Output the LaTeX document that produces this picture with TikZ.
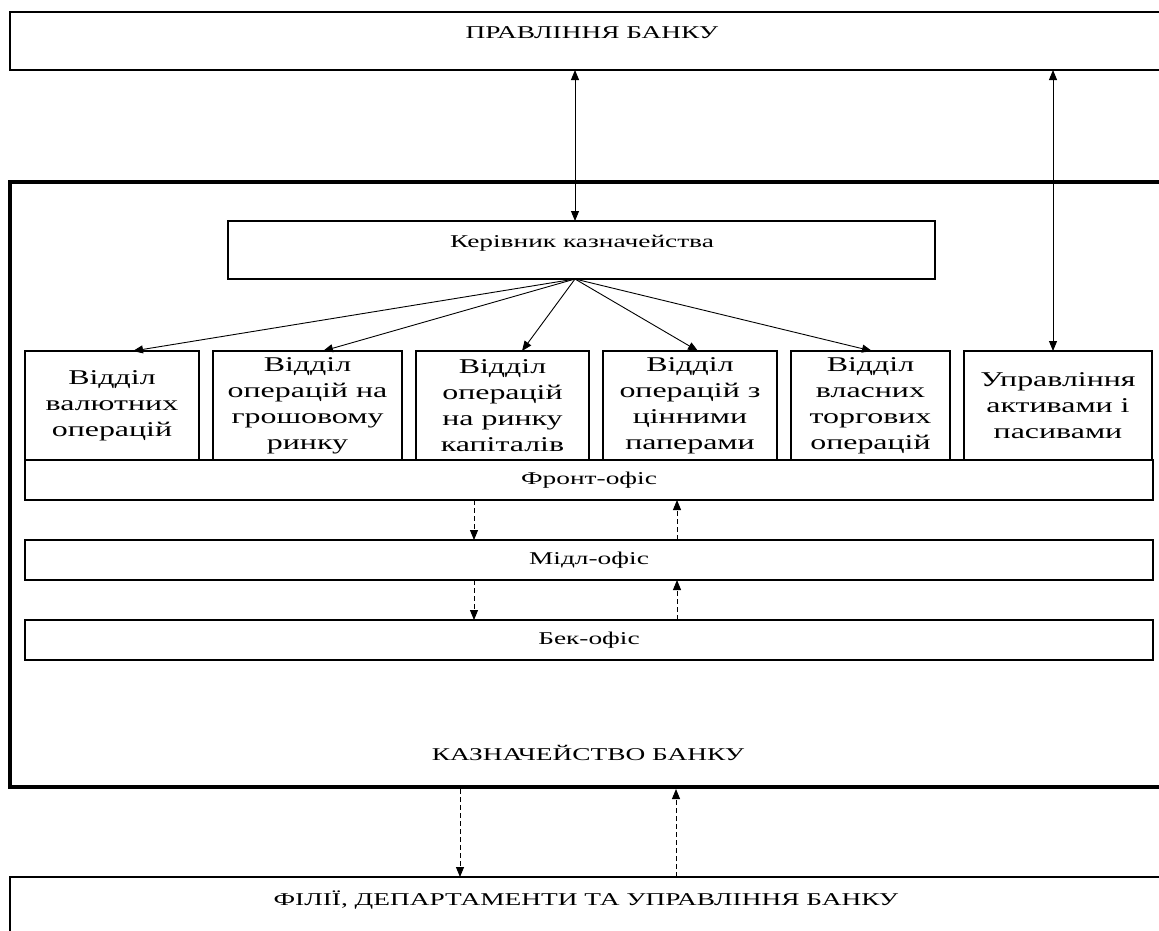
\documentclass[tikz,border=0pt]{standalone}
\usepackage{fontspec}
\setmainfont{Liberation Serif}
\newfontfamily\wideserif[FakeStretch=1.52]{Liberation Serif}
\usetikzlibrary{positioning,arrows.meta}

\begin{document}
\begin{tikzpicture}[x=1pt,y=-1pt,node distance=14pt,>={Triangle[length=10pt,width=8pt]},
  box/.style={draw,line width=1.4pt,inner sep=0pt,outer sep=0pt},
  unit/.style={box,minimum height=109pt,align=center,font=\wideserif\fontsize{21}{26}\selectfont},
  office/.style={box,minimum width=1128pt,minimum height=40pt,font=\wideserif\fontsize{18}{21}\selectfont},
  caption/.style={inner sep=0pt,font=\wideserif\fontsize{18}{21}\selectfont},
  link/.style={line width=0.9pt},
  dlink/.style={link,dash pattern=on 5pt off 3pt}]
  \useasboundingbox (0,0) rectangle (1159,930);
  \clip (0,0) rectangle (1159,930);
  % outer boxes
  \node(board)[box,anchor=north west,minimum width=1164pt,minimum height=58pt] at (10,12) {};
  \node(boardtxt)[caption] at (592,33) {ПРАВЛІННЯ БАНКУ};
  \node(treasury)[box,line width=4.5pt,anchor=north west,minimum width=1160pt,minimum height=605pt] at (10,182) {};
  \node(treasurytxt)[caption] at (588,753) {КАЗНАЧЕЙСТВО БАНКУ};
  \node(branches)[box,anchor=north west,minimum width=1300pt,minimum height=80pt] at (10,877) {};
  \node(branchestxt)[caption] at (586,900) {ФІЛІЇ, ДЕПАРТАМЕНТИ ТА УПРАВЛІННЯ БАНКУ};
  % head of treasury
  \node(head)[box,anchor=north west,minimum width=707pt,minimum height=58pt] at (228,221) {};
  \node(headtxt)[caption] at (582,243) {Керівник казначейства};
  % departments
  \node(fx)[unit,minimum width=174pt,anchor=south west] at (25,460) {Відділ\\валютних\\операцій};
  \node(money)[unit,minimum width=189pt,right=of fx] {Відділ\\операцій на\\грошовому\\ринку};
  \node(capital)[unit,minimum width=173pt,right=of money] {Відділ\\операцій\\на ринку\\капіталів};
  \node(secur)[unit,minimum width=174pt,right=of capital] {Відділ\\операцій з\\цінними\\паперами};
  \node(trade)[unit,minimum width=159pt,right=of secur] {Відділ\\власних\\торгових\\операцій};
  \node(alm)[unit,minimum width=188pt,right=of trade] {Управління\\активами і\\пасивами};
  % offices
  \node(front)[office,anchor=north west] at (25,460) {Фронт-офіс};
  \node(middle)[office,below=40pt of front] {Мідл-офіс};
  \node(back)[office,below=40pt of middle] {Бек-офіс};
  % arrows
  \coordinate(hub) at ([xshift=-6.5pt]head.south);
  \coordinate(hubtop) at ([xshift=-6.5pt]head.north);
  \coordinate(almtop) at ([xshift=-5pt]alm.north);
  \draw[link,<->] (hubtop |- board.south) -- (hubtop);
  \draw[link,<->] (almtop |- board.south) -- (almtop);
  \foreach \dept/\dx in {fx/21,money/15.5,capital/19.5,secur/8,trade/1.5}
    \draw[link,->] (hub) -- ([xshift=\dx pt]\dept.north);
  \coordinate(dn) at (474,0);
  \coordinate(up) at (677,0);
  \coordinate(dnout) at (460,0);
  \coordinate(upout) at (676,0);
  \draw[dlink,->] (front.south -| dn) -- (middle.north -| dn);
  \draw[dlink,->] (middle.north -| up) -- (front.south -| up);
  \draw[dlink,->] (middle.south -| dn) -- (back.north -| dn);
  \draw[dlink,->] (back.north -| up) -- (middle.south -| up);
  \draw[dlink,->] ([yshift=-2pt]treasury.south -| dnout) -- (branches.north -| dnout);
  \draw[dlink,->] (branches.north -| upout) -- ([yshift=-2pt]treasury.south -| upout);
\end{tikzpicture}
\end{document}
